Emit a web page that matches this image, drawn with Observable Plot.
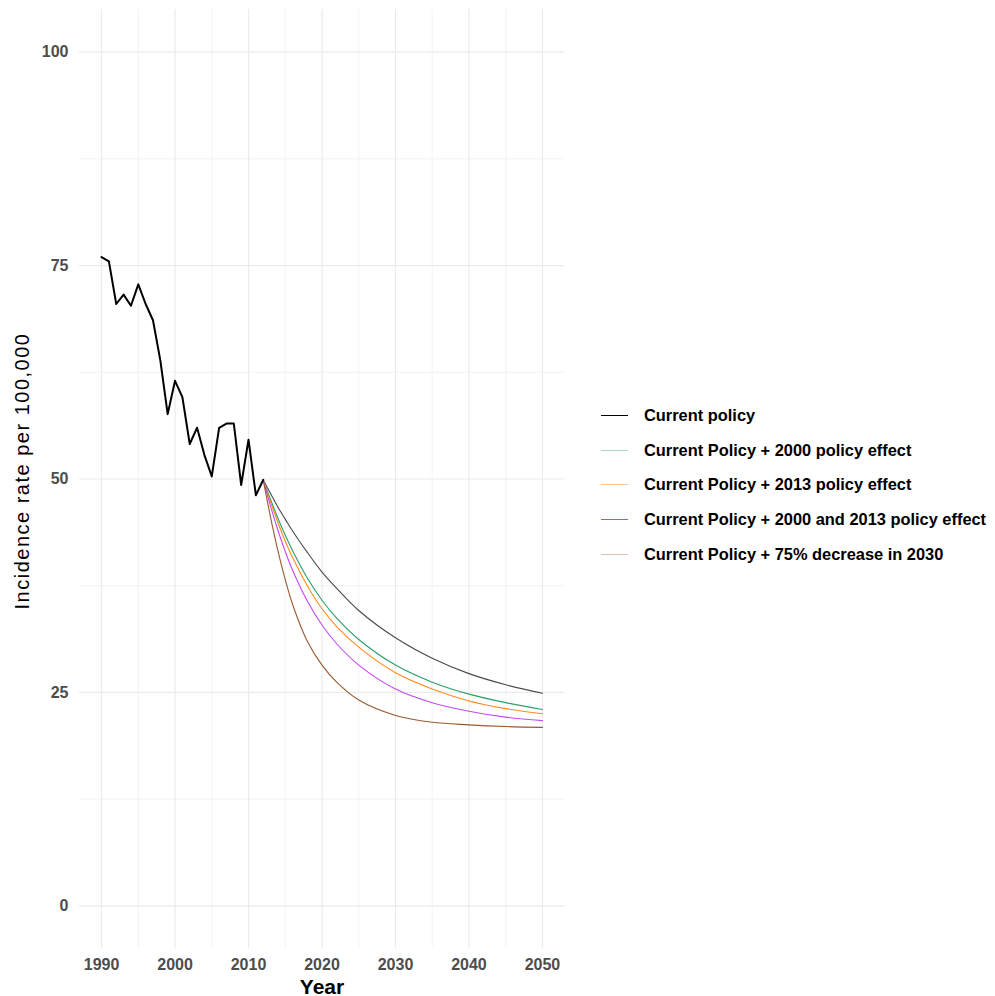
<!DOCTYPE html>
<html><head><meta charset="utf-8">
<script src="https://cdn.jsdelivr.net/npm/d3@7"></script>
<script src="https://cdn.jsdelivr.net/npm/@observablehq/plot@0.6"></script>
<style>
body{margin:0;background:#fff;font-family:"Liberation Sans",Arial,sans-serif;}
#wrap{position:relative;width:995px;height:996px;}
#legend{position:absolute;left:601px;top:398px;}
.item{display:flex;align-items:center;height:34.7px;}
.key{width:27px;height:0;border-top:1.4px solid;margin-right:16px;}
.lab{font-size:16.4px;font-weight:bold;color:#000;white-space:nowrap;}
</style></head><body><div id="wrap"></div>
<script>
const histYears = [1990,1991,1992,1993,1994,1995,1996,1997,1998,1999,2000,2001,2002,2003,2004,2005,2006,2007,2008,2009,2010,2011,2012];
const histValues = [76.0,75.5,70.5,71.6,70.3,72.8,70.5,68.6,63.9,57.6,61.5,59.6,54.1,56.0,52.8,50.3,56.0,56.5,56.5,49.3,54.6,48.1,49.9];

const projYears = [2012,2013,2014,2015,2016,2018,2020,2022,2025,2030,2035,2040,2045,2050];
const currentPolicy     = [49.9,48.3,46.7,45.3,43.9,41.4,39.1,37.2,34.6,31.4,29.0,27.2,25.9,24.9];
const policy2000        = [49.9,47.6,45.4,43.4,41.6,38.4,35.8,33.7,31.2,28.2,26.2,24.8,23.8,23.0];
const policy2013        = [49.9,47.3,44.9,42.7,40.8,37.5,34.8,32.7,30.3,27.3,25.4,24.0,23.1,22.5];
const policy2000and2013 = [49.9,46.8,44.0,41.5,39.3,35.7,32.9,30.7,28.2,25.4,23.8,22.8,22.1,21.7];
const decrease75        = [49.9,45.5,41.6,38.2,35.3,31.0,28.2,26.2,24.1,22.3,21.5,21.2,21.0,20.9];

const seriesNames = ["Current policy","Current Policy + 2000 policy effect","Current Policy + 2013 policy effect","Current Policy + 2000 and 2013 policy effect","Current Policy + 75% decrease in 2030"];
const seriesValues = [currentPolicy, policy2000, policy2013, policy2000and2013, decrease75];
const lineColors = ["#4a4a4a","#2a9d6a","#ff8a1f","#c04cf5","#9a5a30"];
const legendColors = ["#000000","#a9d9c2","#ffc48f","#c040ff","#d9c3b3"];

const xTicks = [1990,2000,2010,2020,2030,2040,2050];
const xMinor = [1995,2005,2015,2025,2035,2045];
const yTicks = [0,25,50,75,100];
const yMinor = [12.5,37.5,62.5,87.5];

const hist = histYears.map((y,i)=>({year:y,value:histValues[i]}));
const proj = seriesNames.flatMap((s,j)=>projYears.map((y,i)=>({year:y,value:seriesValues[j][i],series:s})));

const chart = Plot.plot({
  width: 995, height: 996,
  marginLeft: 79, marginRight: 431, marginTop: 9, marginBottom: 48,
  style: {fontFamily:"Liberation Sans, Arial, sans-serif", background:"#fff"},
  x: {domain:[1987,2053]},
  y: {domain:[-5,105]},
  color: {domain: seriesNames, range: lineColors},
  marks: [
    Plot.ruleX(xMinor, {stroke:"#ebebeb", strokeWidth:0.6}),
    Plot.ruleY(yMinor, {stroke:"#ebebeb", strokeWidth:0.6}),
    Plot.ruleX(xTicks, {stroke:"#ebebeb", strokeWidth:1.2}),
    Plot.ruleY(yTicks, {stroke:"#ebebeb", strokeWidth:1.2}),
    Plot.axisX({ticks:xTicks, tickSize:0, tickPadding:10, tickFormat:d=>String(d), label:null, fontSize:16, fontWeight:"bold", fill:"#4d4d4d"}),
    Plot.axisY({ticks:yTicks, tickSize:0, tickPadding:11, label:null, fontSize:16, fontWeight:"bold", fill:"#4d4d4d"}),
    Plot.line(proj, {x:"year", y:"value", stroke:"series", z:"series", strokeWidth:1.1, curve:"catmull-rom"}),
    Plot.line(hist, {x:"year", y:"value", stroke:"#000", strokeWidth:2}),
    Plot.text(["Year"], {frameAnchor:"bottom", lineAnchor:"bottom", dy:45, fontSize:21, fontWeight:"bold", fill:"#000"}),
    Plot.text(["Incidence rate per 100,000"], {frameAnchor:"left", textAnchor:"middle", lineAnchor:"middle", dx:-57, dy:-8, rotate:-90, fontSize:20, fill:"#000", className:"ytitle"})
  ]
});
const yt = chart.querySelector(".ytitle text");
if (yt) yt.setAttribute("letter-spacing", "1.5");
document.getElementById("wrap").appendChild(chart);

const legend = document.createElement("div");
legend.id = "legend";
seriesNames.forEach((s,i)=>{
  const it = document.createElement("div"); it.className="item";
  const k = document.createElement("div"); k.className="key"; k.style.borderTopColor = legendColors[i];
  const l = document.createElement("div"); l.className="lab"; l.textContent = s;
  it.appendChild(k); it.appendChild(l); legend.appendChild(it);
});
document.getElementById("wrap").appendChild(legend);
</script>
</body></html>
